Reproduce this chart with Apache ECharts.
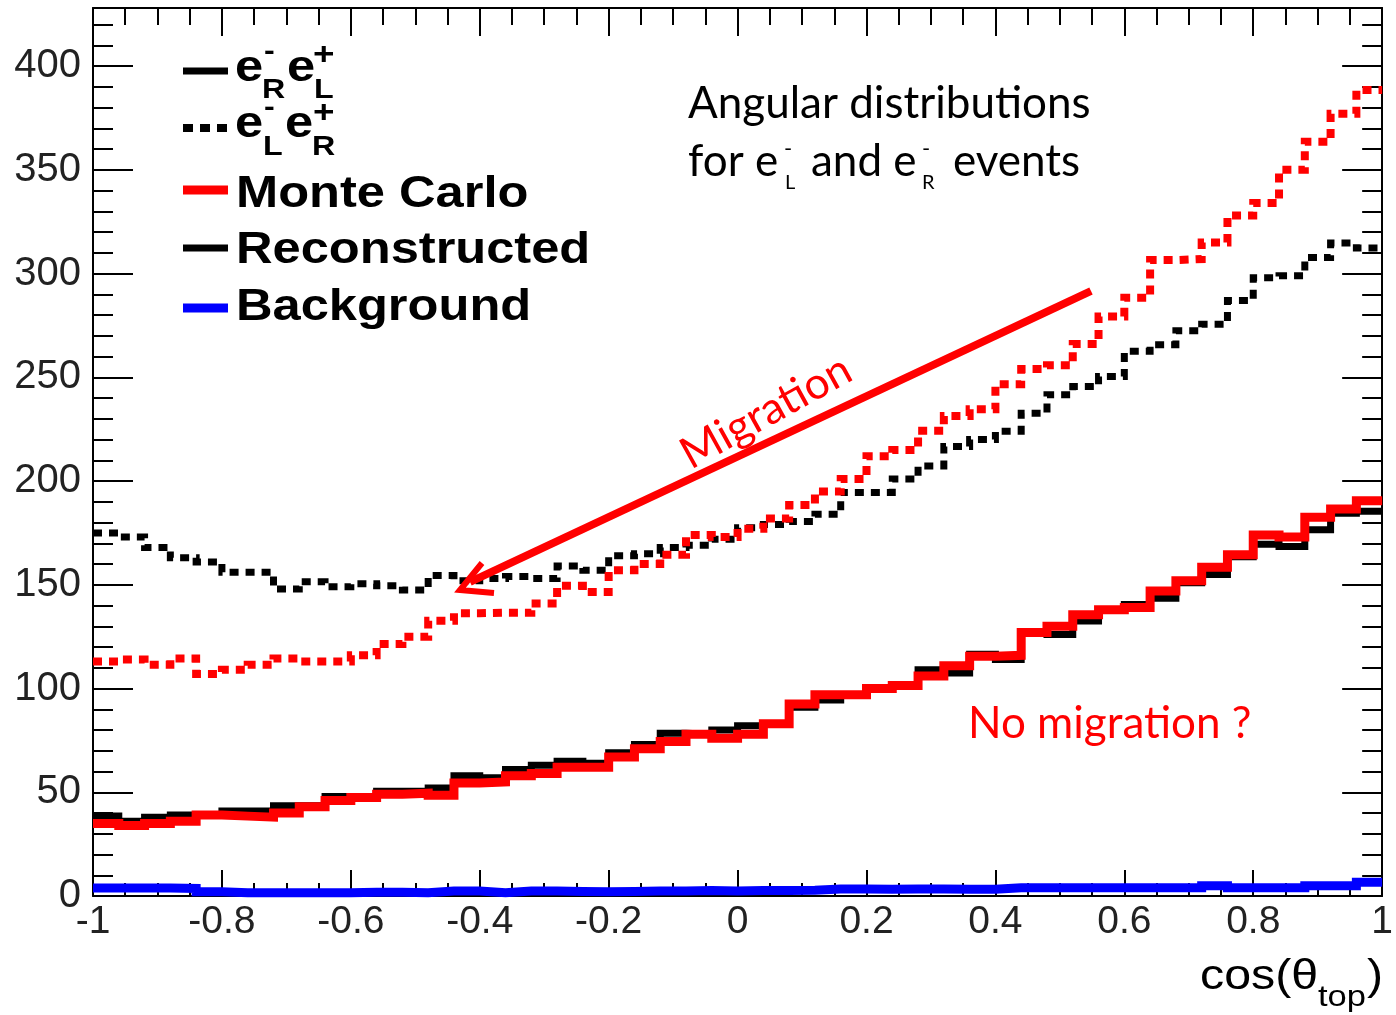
<!DOCTYPE html>
<html><head><meta charset="utf-8">
<script src="https://cdn.jsdelivr.net/npm/echarts@6/dist/echarts.min.js"></script>
<style>html,body{margin:0;padding:0;background:#fff}#c{width:1396px;height:1015px}</style>
</head><body><div id="c"></div>
<script>
// ---- data (50 bins of width 0.04 on cos(theta_top) in [-1,1]) ----
const xMin = -1, binWidth = 0.04;
const recoR = [38.5,36,38,39,39,41,41,43.5,43.5,48,48,50.5,50.5,52,58,57,61,63,65,64,69,73,78.5,78,80,82,83,91,94.5,97,100,101,109,107.5,116.5,114,127,126,132.5,138,140.5,143.5,151,155,163.5,169.5,168.5,176.5,184.5,185.5];
const mcR = [35,34,35,36,39,38.5,38,40,43,46,47.5,49,49.5,48.5,54.5,55,58,59,62,62,67,71,74.5,78,76,78,83,92.5,97,97,100,101.5,106,111,115.5,116,127,130,135.5,138,139,147,152,158.5,164.5,174,173,182.5,186.5,190.5];
const recoL = [175,173,168,163,161,156,156,148,151.5,149,150.5,149.5,147.5,154.5,152,153,154,153,159,157,164,165,168,169,172,177.5,179,180.5,184,194.5,194.5,201,207.3,216.6,220,224,232.7,241.6,245.6,250.4,262.5,265.7,272.4,275.6,287,298,299,307.7,314.7,312.3];
const mcL = [113,114,111.5,114.5,107,109,111.5,114.5,113,113,116,121.5,125,132.7,136.3,136.5,136.5,141,149.5,146.5,157,160,164.5,174,173,177,182,188.5,195,201,212,215,224.3,231.4,234.6,246.7,254,255.8,266,279.3,288.4,306.5,307,315,328,334,350,363.5,377,388.5];
const background = [3.8,3.8,3.8,3.6,2,1.6,1.6,1.6,1.6,1.6,1.8,1.8,1.6,2.4,2.4,1.6,2.4,2.4,2.2,2,2.2,2.4,2.4,2.6,2.4,2.6,2.6,2.8,3.4,3.4,3.2,3.4,3.4,3.2,3.2,4,4,4,4,4,4,4,4,5,4,4,4,5,5,6.6];
const xTickStep = 0.2, yTickStep = 50;
const legendNames = ['Monte Carlo','Reconstructed','Background'];

function steps(vals){
  const d = vals.map((v,i)=>[+(xMin + i*binWidth).toFixed(4), v]);
  d.push([+(xMin + vals.length*binWidth).toFixed(4), vals[vals.length-1]]);
  return d;
}

const chart = echarts.init(document.getElementById('c'), null, {renderer:'canvas'});
const AX = '#000';
const labFont = 'Liberation Sans, Arial, sans-serif';
function xAx(pos, show){
  return {type:'value', position:pos, min:-1, max:1, interval:xTickStep,
    axisLine:{show:true, onZero:false, lineStyle:{color:AX,width:2}},
    axisTick:{show:true, inside:true, length: pos==='bottom'?26:28, lineStyle:{color:AX,width:2}},
    minorTick:{show:true, splitNumber:4, length: pos==='bottom'?13:17, lineStyle:{color:AX,width:2}},
    splitLine:{show:false},
    axisLabel:{show:show, fontSize:39, fontFamily:labFont, color:'#222', margin:7,
      formatter:v=>String(+v.toFixed(2))}};
}
function yAx(pos, show){
  return {type:'value', position:pos, min:0, max:428, interval:yTickStep,
    axisLine:{show:true, onZero:false, lineStyle:{color:AX,width:2}},
    axisTick:{show:true, inside:true, length:40, lineStyle:{color:AX,width:2}},
    minorTick:{show:true, splitNumber:5, length:20, lineStyle:{color:AX,width:2}},
    splitLine:{show:false},
    axisLabel:{show:show, fontSize:40, fontFamily:labFont, color:'#222', margin:12,
      formatter:v=> (Math.abs(v % yTickStep) < 1e-6 ? String(v) : '')}};
}
function ser(name, vals, color, width, dash, z){
  return {name, type:'line', step:'end', data:steps(vals), xAxisIndex:0, yAxisIndex:0,
    showSymbol:false, symbol:'none', clip:true, z:z, animation:false,
    lineStyle:{color, width, type: dash? [9,7] : 'solid', cap:'butt', join:'miter'}};
}

// ---- text helpers (annotation, legend) ----
function txt(x, baseline, text, fs, opts){
  opts = opts || {};
  const fam = opts.family || labFont;
  const k = opts.mid != null ? opts.mid : 0.35;
  return {type:'text', x:x, y:baseline - k*fs, rotation: opts.rot||0, scaleX: opts.sx||1, z:100,
    style:{text, fontSize:fs, fontFamily:fam, fontWeight:opts.bold?'bold':'normal',
      fill:opts.color||'#000', align:opts.align||'left', verticalAlign:'middle'}};
}
const calib = 'Lato, "Open Sans", sans-serif';
const g = [];
// legend line samples
g.push({type:'line', z:100, shape:{x1:183,y1:71,x2:228,y2:71}, style:{stroke:'#000', lineWidth:7}});
g.push({type:'line', z:100, shape:{x1:183,y1:128,x2:228,y2:128}, style:{stroke:'#000', lineWidth:8, lineDash:[10,7]}});
g.push({type:'line', z:100, shape:{x1:183,y1:190,x2:228,y2:190}, style:{stroke:'#ff0000', lineWidth:9}});
g.push({type:'line', z:100, shape:{x1:183,y1:248,x2:228,y2:248}, style:{stroke:'#000', lineWidth:7}});
g.push({type:'line', z:100, shape:{x1:183,y1:308,x2:228,y2:308}, style:{stroke:'#0000ff', lineWidth:9}});
// legend labels
const LF = 44, LS = 1.15;
g.push(txt(235, 84, 'e', LF, {bold:true, sx:LS}));
g.push(txt(264, 62, '-', 28, {bold:true, sx:LS}));
g.push(txt(262, 100, 'R', 28, {bold:true, sx:LS}));
g.push(txt(287, 84, 'e', LF, {bold:true, sx:LS}));
g.push(txt(313, 66, '+', 32, {bold:true, sx:LS}));
g.push(txt(314, 100, 'L', 28, {bold:true, sx:LS}));
g.push(txt(235, 140, 'e', LF, {bold:true, sx:LS}));
g.push(txt(264, 118, '-', 28, {bold:true, sx:LS}));
g.push(txt(263, 157, 'L', 28, {bold:true, sx:LS}));
g.push(txt(285, 140, 'e', LF, {bold:true, sx:LS}));
g.push(txt(313, 124, '+', 32, {bold:true, sx:LS}));
g.push(txt(312, 157, 'R', 28, {bold:true, sx:LS}));
g.push(txt(236, 210, legendNames[0], LF, {bold:true, sx:LS}));
g.push(txt(236, 266, legendNames[1], LF, {bold:true, sx:LS}));
g.push(txt(236, 323, legendNames[2], LF, {bold:true, sx:LS}));
// annotation text
const AF = 44;
g.push(txt(688, 121, 'Angular distributions', AF, {family:calib, mid:0.39}));
g.push(txt(688, 179, 'for e', AF, {family:calib, mid:0.39}));
g.push(txt(784, 157, '-', 22, {family:calib, mid:0.39}));
g.push(txt(785, 190, 'L', 20, {family:calib, mid:0.39}));
g.push(txt(811, 179, 'and e', AF, {family:calib, mid:0.39}));
g.push(txt(922, 157, '-', 22, {family:calib, mid:0.39}));
g.push(txt(922, 190, 'R', 20, {family:calib, mid:0.39}));
g.push(txt(953, 179, 'events', AF, {family:calib, mid:0.39}));
g.push({type:'text', x:766, y:412, rotation: 29*Math.PI/180, z:100,
  style:{text:'Migration', fontSize:44, fontFamily:calib, fill:'#ff0000', align:'center', verticalAlign:'middle'}});
g.push(txt(968, 741, 'No migration ?', 44, {family:calib, mid:0.39, color:'#ff0000'}));
// arrow
g.push({type:'line', z:100, shape:{x1:1091,y1:291,x2:470,y2:582}, style:{stroke:'#ff0000', lineWidth:8}});
g.push({type:'polyline', z:100, shape:{points:[[482,563],[460,590],[494,593]]}, style:{stroke:'#ff0000', lineWidth:6, fill:null}});
// axis title
g.push(txt(1200, 992, 'cos(θ', 42, {sx:1.15}));
g.push(txt(1318, 1008, 'top', 30, {sx:1.15}));
g.push(txt(1367, 992, ')', 42, {sx:1.15}));

chart.setOption({
  animation:false,
  backgroundColor:'#fff',
  grid:{left:93, top:8, width:1291, height:888, show:false, containLabel:false},
  xAxis:[xAx('bottom', true), xAx('top', false)],
  yAxis:[yAx('left', true), yAx('right', false)],
  series:[
    ser('eL Reconstructed', recoL, '#000', 7, true, 2),
    ser('eL Monte Carlo', mcL, '#ff0000', 8, true, 3),
    ser('eR Reconstructed', recoR, '#000', 7, false, 4),
    ser('eR Monte Carlo', mcR, '#ff0000', 9, false, 5),
    ser('Background', background, '#0000ff', 9, false, 6),
    {type:'line', data:[], xAxisIndex:1, yAxisIndex:1}
  ],
  graphic:g
});
</script></body></html>
